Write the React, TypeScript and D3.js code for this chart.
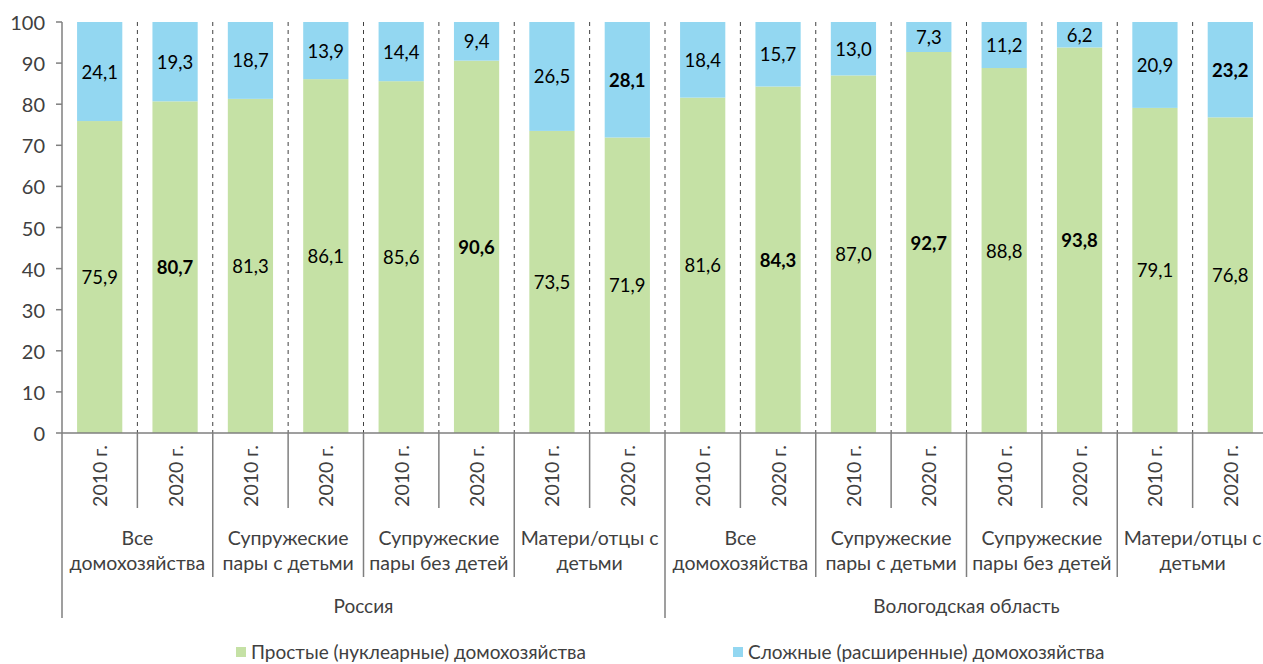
import React from 'react';
import * as d3 from 'd3';

const regions = ['Россия', 'Вологодская область'];
const groups = [
  ['Все', 'домохозяйства'],
  ['Супружеские', 'пары с детьми'],
  ['Супружеские', 'пары без детей'],
  ['Матери/отцы с', 'детьми'],
];
const years = ['2010 г.', '2020 г.'];

const simple = [75.9, 80.7, 81.3, 86.1, 85.6, 90.6, 73.5, 71.9, 81.6, 84.3, 87.0, 92.7, 88.8, 93.8, 79.1, 76.8];
const complex = [24.1, 19.3, 18.7, 13.9, 14.4, 9.4, 26.5, 28.1, 18.4, 15.7, 13.0, 7.3, 11.2, 6.2, 20.9, 23.2];
const boldSimple = [false, true, false, false, false, true, false, false, false, true, false, true, false, true, false, false];
const boldComplex = [false, false, false, false, false, false, false, true, false, false, false, false, false, false, false, true];
const yTicks = [0, 10, 20, 30, 40, 50, 60, 70, 80, 90, 100];
const seriesNames = ['Простые (нуклеарные) домохозяйства', 'Сложные (расширенные) домохозяйства'];
const colors = ['#c5e1a5', '#93d7f1'];

const keys = simple.map((_, i) => `b${i}`);

export default function App() {
  const left = 62, right = 1268, top = 22, bottom = 433;
  const font = 'Lato, "Noto Sans", sans-serif';
  const x = d3.scaleBand().domain(keys).range([left, right]).paddingInner(0.4).paddingOuter(0.2);
  const step = x.step();
  const y = d3.scaleLinear().domain([0, 100]).range([bottom, top]);
  const fmt = (v: number) => v.toFixed(1).replace('.', ',');
  const boundaries = d3.range(keys.length + 1).map(i => left + i * step);
  const axisColor = '#7f7f7f';
  const txt = '#404040';

  return (
    <svg width={1263} height={664} style={{ position: 'absolute', left: 0, top: 0, fontFamily: font }}>
      {/* dashed separators */}
      {boundaries.slice(1, -1).map((bx, i) => (
        <line key={'d' + i} x1={bx} x2={bx} y1={top} y2={bottom} stroke="#404040" strokeDasharray="4,4" strokeWidth={1} />
      ))}
      {keys.map((k, i) => {
        const x0 = x(k)!;
        const w = x.bandwidth();
        const cx = x0 + w / 2;
        const s = simple[i], c = complex[i];
        return (
          <g key={k}>
            <rect x={x0} width={w} y={y(s)} height={y(0) - y(s)} fill={colors[0]} />
            <rect x={x0} width={w} y={y(s + c)} height={y(s) - y(s + c)} fill={colors[1]} />
            <text x={cx} y={y(s / 2)} textAnchor="middle" dominantBaseline="central" fontSize={18.5}
              fontWeight={boldSimple[i] ? 'bold' : 'normal'} fill="#000">{fmt(s)}</text>
            <text x={cx} y={y(s + c / 2)} textAnchor="middle" dominantBaseline="central" fontSize={18.5}
              fontWeight={boldComplex[i] ? 'bold' : 'normal'} fill="#000">{fmt(c)}</text>
            <text transform={`translate(${cx},476) rotate(-90)`} textAnchor="middle" dominantBaseline="central"
              fontSize={19.5} fill={txt}>{years[i % 2]}</text>
          </g>
        );
      })}
      {/* y axis */}
      <line x1={left} x2={left} y1={top} y2={bottom} stroke={axisColor} strokeWidth={1.5} />
      {yTicks.map(t => (
        <g key={t}>
          <line x1={left - 6} x2={left} y1={y(t)} y2={y(t)} stroke={axisColor} strokeWidth={1.5} />
          <text x={left - 17} y={y(t)} textAnchor="end" dominantBaseline="central" fontSize={20} fill={txt}>{t}</text>
        </g>
      ))}
      <line x1={left} x2={right} y1={bottom} y2={bottom} stroke={axisColor} strokeWidth={1.5} />
      {/* category boundaries */}
      {boundaries.map((bx, i) => {
        const y2 = i % 8 === 0 ? 618 : i % 2 === 0 ? 577 : 508;
        return <line key={'t' + i} x1={bx} x2={bx} y1={bottom} y2={y2} stroke={axisColor} strokeWidth={1.5} />;
      })}
      {d3.range(8).map(g => {
        const cx = left + (g * 2 + 1) * step;
        const lab = groups[g % 4];
        return (
          <g key={'g' + g}>
            <text x={cx} y={537} textAnchor="middle" dominantBaseline="central" fontSize={19.5} fill={txt}>{lab[0]}</text>
            <text x={cx} y={562} textAnchor="middle" dominantBaseline="central" fontSize={19.5} fill={txt}>{lab[1]}</text>
          </g>
        );
      })}
      {regions.map((r, i) => (
        <text key={r} x={left + (i * 8 + 4) * step} y={605} textAnchor="middle" dominantBaseline="central" fontSize={19} fill={txt}>{r}</text>
      ))}
      {/* legend */}
      {seriesNames.map((n, i) => {
        const lx = i === 0 ? 236 : 733;
        return (
          <g key={n}>
            <rect x={lx} y={647} width={10} height={10} fill={colors[i]} />
            <text x={lx + 15} y={651} dominantBaseline="central" fontSize={19} fill={txt}>{n}</text>
          </g>
        );
      })}
    </svg>
  );
}
